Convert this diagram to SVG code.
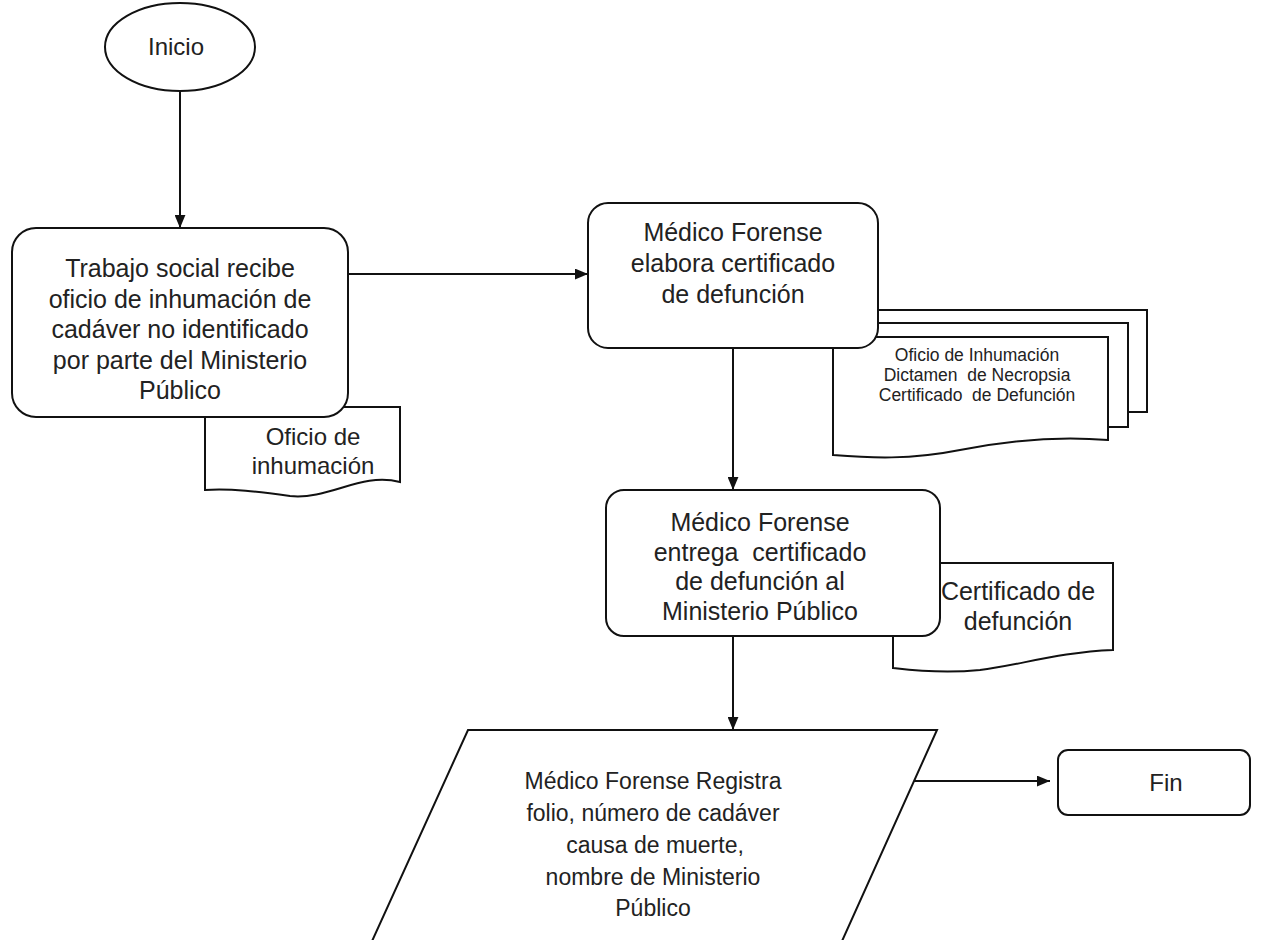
<svg xmlns="http://www.w3.org/2000/svg" width="1265" height="940" viewBox="0 0 1265 940">
<defs>
<style>
.s{fill:#fff;stroke:#111;stroke-width:2}
.t{font-family:"Liberation Sans",Arial,sans-serif;font-size:25px;fill:#222;text-anchor:middle}
.tm{font-family:"Liberation Sans",Arial,sans-serif;font-size:24px;fill:#222;text-anchor:middle}
.ts{font-family:"Liberation Sans",Arial,sans-serif;font-size:17.5px;fill:#222;text-anchor:middle}
.tn{font-family:"Liberation Sans",Arial,sans-serif;font-size:23px;fill:#222;text-anchor:middle}
.c{fill:none;stroke:#111;stroke-width:2}
</style>
<marker id="ah" viewBox="0 0 12 10" refX="12" refY="5" markerWidth="13" markerHeight="11" orient="auto" markerUnits="userSpaceOnUse">
<path d="M0,0 L12,5 L0,10 z" fill="#111"/>
</marker>
</defs>
<rect width="1265" height="940" fill="#fff"/>

<g id="connectors">
<line class="c" x1="180" y1="92" x2="180" y2="228" marker-end="url(#ah)"/>
<line class="c" x1="348" y1="274" x2="588" y2="274" marker-end="url(#ah)"/>
<line class="c" x1="733" y1="347" x2="733" y2="490" marker-end="url(#ah)"/>
<line class="c" x1="733" y1="636" x2="733" y2="730" marker-end="url(#ah)"/>
<line class="c" x1="910" y1="781" x2="1050" y2="781" marker-end="url(#ah)"/>
</g>

<g id="inicio">
<ellipse class="s" cx="180" cy="47" rx="75" ry="44"/>
<text class="tm" x="176" y="55">Inicio</text>
</g>

<g id="doc-oficio">
<path class="s" d="M205,407 H400 V482 C360,472 330,500 290,496 C260,492 230,488 205,490 Z"/>
<text class="tm" x="313" y="445">Oficio de</text>
<text class="tm" x="313" y="474">inhumación</text>
</g>

<g id="trabajo-social">
<rect class="s" x="12" y="228" width="336" height="189" rx="24"/>
<text class="t" x="180" y="277">Trabajo social recibe</text>
<text class="t" x="180" y="307.5">oficio de inhumación de</text>
<text class="t" x="180" y="338">cadáver no identificado</text>
<text class="t" x="180" y="368.5">por parte del Ministerio</text>
<text class="t" x="180" y="399">Público</text>
</g>

<g id="docs-multi">
<path class="s" d="M872,310 H1147 V412 H1128 V323 H872 Z"/>
<path class="s" d="M852,323 H1128 V427 H1108 V337 H852 Z"/>
<path class="s" d="M833,337 H1108 V440 C1060,436 1010,440 960,450 C910,460 870,458 833,455 Z"/>
<text class="ts" x="977" y="361">Oficio de Inhumación</text>
<text class="ts" x="977" y="381">Dictamen&#160; de Necropsia</text>
<text class="ts" x="977" y="401">Certificado&#160; de Defunción</text>
</g>

<g id="elabora">
<rect class="s" x="588" y="203" width="290" height="145" rx="20"/>
<text class="t" x="733" y="241">Médico Forense</text>
<text class="t" x="733" y="272">elabora certificado</text>
<text class="t" x="733" y="303">de defunción</text>
</g>

<g id="doc-certificado">
<path class="s" d="M893,563 H1113 V650 C1060,652 1020,665 980,670 C940,674 910,670 893,668 Z"/>
<text class="t" x="1018" y="600">Certificado de</text>
<text class="t" x="1018" y="630">defunción</text>
</g>

<g id="entrega">
<rect class="s" x="606" y="490" width="334" height="146" rx="18"/>
<text class="t" x="760" y="531">Médico Forense</text>
<text class="t" x="760" y="560.5">entrega&#160; certificado</text>
<text class="t" x="760" y="590">de defunción al</text>
<text class="t" x="760" y="619.5">Ministerio Público</text>
</g>

<g id="registra">
<path class="s" d="M468,730 H937 L838,950 H368 Z"/>
<text class="tn" x="653" y="789">Médico Forense Registra</text>
<text class="tn" x="653" y="821">folio, número de cadáver</text>
<text class="tn" x="655" y="853">causa de muerte,</text>
<text class="tn" x="653" y="885">nombre de Ministerio</text>
<text class="tn" x="653" y="916">Público</text>
</g>

<g id="fin">
<rect class="s" x="1058" y="750" width="192" height="65" rx="10"/>
<text class="tm" x="1166" y="791">Fin</text>
</g>
</svg>
